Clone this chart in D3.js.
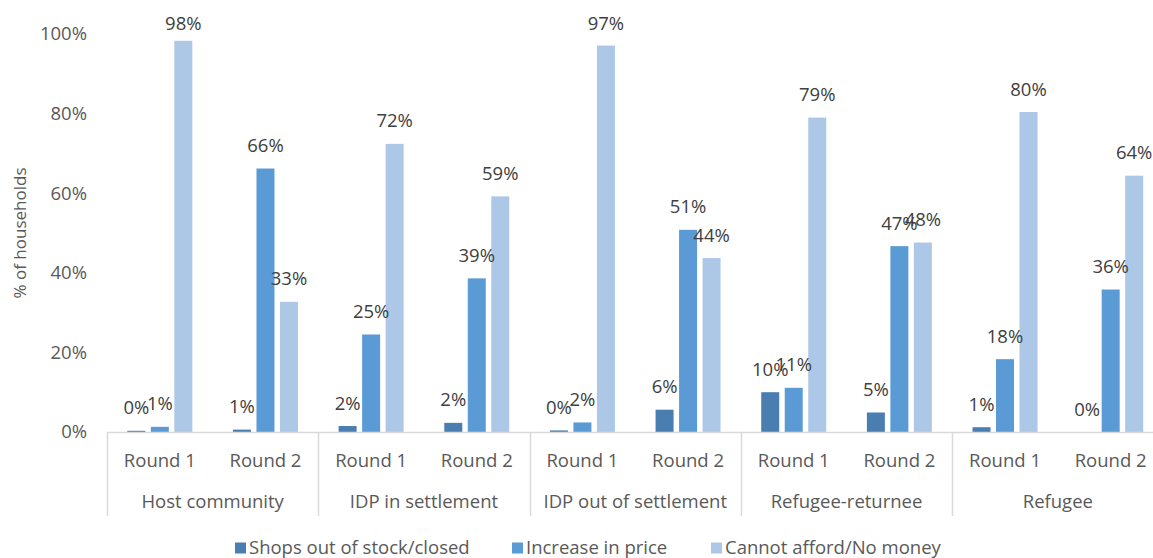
<!DOCTYPE html>
<html>
<head>
<meta charset="utf-8">
<script src="https://cdn.jsdelivr.net/npm/d3@7"></script>
<style>
  body { margin: 0; background: #fff; }
  svg { display: block; }
  text { font-family: "Open Sans", "Noto Sans", sans-serif; }
</style>
</head>
<body>
<svg id="chart" width="1153" height="558"></svg>
<script>
// ---- data ----
const groups = ["Host community", "IDP in settlement", "IDP out of settlement", "Refugee-returnee", "Refugee"];
const rounds = ["Round 1", "Round 2"];
const seriesNames = ["Shops out of stock/closed", "Increase in price", "Cannot afford/No money"];
// values per (group, round) in order: Host R1, Host R2, IDP-in R1, IDP-in R2, ...
const shopsClosed = [0.003, 0.006, 0.015, 0.023, 0.004, 0.056, 0.100, 0.049, 0.012, 0.000];
const priceIncrease = [0.013, 0.662, 0.245, 0.386, 0.024, 0.508, 0.111, 0.467, 0.183, 0.358];
const cannotAfford = [0.983, 0.327, 0.724, 0.592, 0.971, 0.437, 0.790, 0.476, 0.804, 0.644];
const yTicks = [0, 0.2, 0.4, 0.6, 0.8, 1.0];
const colors = ["#4a7eb0", "#5b9bd5", "#adc7e7"];

const seriesValues = [shopsClosed, priceIncrease, cannotAfford];
const rows = [];
groups.forEach((g, gi) => rounds.forEach((r, ri) => {
  const idx = gi * 2 + ri;
  seriesNames.forEach((s, si) => rows.push({group: g, round: r, series: s, si, value: seriesValues[si][idx]}));
}));

const svg = d3.select("#chart");
const left = 107, groupW = 211.3, baseY = 432, topY = 34;
const fontC = "#595959";
const fs = 18.5;

const x0 = d3.scaleBand().domain(groups).range([left, left + groupW * groups.length]);
const x1 = d3.scaleBand().domain(rounds).range([0, x0.bandwidth()]);
const clusterW = 65;
const x2 = d3.scaleBand().domain(seriesNames).range([0, clusterW]).paddingInner(0.234);
const y = d3.scaleLinear().domain([0, 1]).range([baseY, topY]);

const barX = d => x0(d.group) + x1(d.round) + x1.bandwidth() / 2 - clusterW / 2 + x2(d.series);

// y axis labels
svg.append("g").selectAll("text").data(yTicks).join("text")
  .attr("x", 87).attr("y", d => y(d)).attr("dy", "0.35em")
  .attr("text-anchor", "end").attr("fill", fontC).attr("font-size", fs)
  .text(d3.format(".0%"));

svg.append("text")
  .attr("transform", `translate(20,${(baseY + topY) / 2}) rotate(-90)`)
  .attr("text-anchor", "middle").attr("dy", "0.35em")
  .attr("fill", fontC).attr("font-size", 17).text("% of households");

// bars
svg.append("g").selectAll("rect").data(rows).join("rect")
  .attr("x", barX).attr("width", x2.bandwidth())
  .attr("y", d => y(d.value)).attr("height", d => baseY - y(d.value))
  .attr("fill", d => colors[d.si]);

// axis line & dividers
const axisC = "#d9d9d9";
svg.append("line").attr("x1", left).attr("x2", 1153).attr("y1", baseY + 0.5).attr("y2", baseY + 0.5)
  .attr("stroke", axisC).attr("stroke-width", 1.5);
svg.append("g").selectAll("line").data(groups).join("line")
  .attr("x1", d => Math.round(x0(d)) + 0.5).attr("x2", d => Math.round(x0(d)) + 0.5)
  .attr("y1", baseY).attr("y2", 516)
  .attr("stroke", axisC).attr("stroke-width", 1.5);

// round labels
const roundLabels = [];
groups.forEach(g => rounds.forEach(r => roundLabels.push({g, r})));
svg.append("g").selectAll("text").data(roundLabels).join("text")
  .attr("x", d => x0(d.g) + x1(d.r) + x1.bandwidth() / 2)
  .attr("y", 461).attr("dy", "0.35em").attr("text-anchor", "middle")
  .attr("fill", fontC).attr("font-size", fs).text(d => d.r);

// group labels
svg.append("g").selectAll("text").data(groups).join("text")
  .attr("x", d => x0(d) + x0.bandwidth() / 2)
  .attr("y", 502).attr("dy", "0.35em").attr("text-anchor", "middle")
  .attr("fill", fontC).attr("font-size", fs).text(d => d);

// data labels
svg.append("g").selectAll("text").data(rows).join("text")
  .attr("x", d => barX(d) + x2.bandwidth() / 2)
  .attr("y", d => Math.max(29.5, y(d.value) - 16.5))
  .attr("text-anchor", "middle").attr("fill", "#404040").attr("font-size", fs)
  .text(d => Math.round(d.value * 100) + "%");

// legend
const legendX = [235, 512, 711];
const lg = svg.append("g").selectAll("g").data(seriesNames).join("g")
  .attr("transform", (d, i) => `translate(${legendX[i]},548)`);
lg.append("rect").attr("x", 0).attr("y", -5.5).attr("width", 11).attr("height", 11)
  .attr("fill", (d, i) => colors[i]);
lg.append("text").attr("x", 14).attr("dy", "0.35em").attr("fill", fontC).attr("font-size", fs).text(d => d);
</script>
</body>
</html>
